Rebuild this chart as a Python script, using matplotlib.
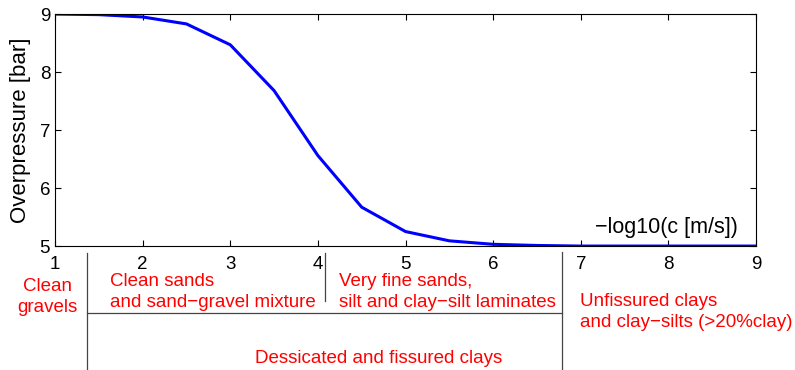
import matplotlib.pyplot as plt

plt.rcParams['font.family'] = ['Liberation Sans', 'DejaVu Sans']

# curve data
log_c = [1, 1.5, 2, 2.5, 3, 3.5, 4, 4.5, 5, 5.5, 6, 6.5, 7, 7.5, 8, 8.5, 9]
overpressure = [9.0, 8.99, 8.95, 8.83, 8.47, 7.68, 6.56, 5.67, 5.25, 5.09,
                5.03, 5.01, 5.0, 5.0, 5.0, 5.0, 5.0]

x_ticks = [1, 2, 3, 4, 5, 6, 7, 8, 9]
y_ticks = [5, 6, 7, 8, 9]

# soil class annotation (text, x in data units, y in axes units)
soil_labels = [
    ('Clean', 0.91, -0.193, 'center'),
    ('gravels', 0.91, -0.283, 'center'),
    ('Clean sands', 1.63, -0.171, 'left'),
    ('and sand\u2212gravel mixture', 1.63, -0.262, 'left'),
    ('Very fine sands,', 4.24, -0.171, 'left'),
    ('silt and clay\u2212silt laminates', 4.24, -0.262, 'left'),
    ('Unfissured clays', 6.99, -0.257, 'left'),
    ('and clay\u2212silts (>20%clay)', 6.99, -0.35, 'left'),
    ('Dessicated and fissured clays', 3.28, -0.504, 'left'),
]
# separator lines: (x0, x1, y0, y1), x in data, y in axes units
separators = [
    (1.365, 1.365, -0.030, -0.534),
    (4.08, 4.08, -0.030, -0.235),
    (6.79, 6.79, -0.026, -0.534),
    (1.365, 6.79, -0.288, -0.288),
]

fig = plt.figure(figsize=(7.95, 3.7), dpi=100)
ax = fig.add_axes([0.0692, 0.335, 0.8818, 0.627])

ax.plot(log_c, overpressure, color='#0000ff', lw=2.2)
ax.set_xlim(1, 9)
ax.set_ylim(5, 9)
ax.set_xticks(x_ticks)
ax.set_yticks(y_ticks)
ax.tick_params(direction='in', top=True, right=True, length=4, labelsize=13.5)
ax.tick_params(axis='x', pad=7)
ax.set_ylabel('Overpressure [bar]', fontsize=16, labelpad=6)
ax.text(0.974, 0.056, '\u2212log10(c [m/s])', transform=ax.transAxes,
        ha='right', va='baseline', fontsize=15.5)

tr = ax.get_xaxis_transform()
for x0, x1, y0, y1 in separators:
    ax.plot([x0, x1], [y0, y1], color='#444444', lw=0.9, transform=tr, clip_on=False)
for txt, x, y, ha in soil_labels:
    ax.text(x, y, txt, transform=tr, ha=ha, va='baseline', color='#ff0000', fontsize=13.5)

plt.savefig('out.png', dpi=100)
